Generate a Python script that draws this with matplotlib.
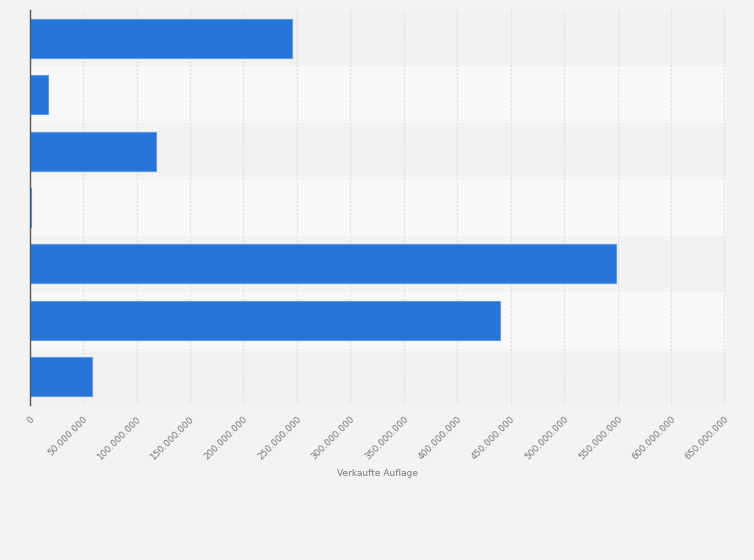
import matplotlib
matplotlib.use("Agg")
import matplotlib.pyplot as plt
import numpy as np

categories = ["1", "2", "3", "4", "5", "6", "7"]
values = [245e6, 17.4e6, 118.5e6, 1.2e6, 548.5e6, 440e6, 58.5e6]
xticks = list(range(0, 650_000_001, 50_000_000))
xlabel = "Verkaufte Auflage"

def fmt(v):
    return f"{v:,}".replace(",", ".")

fig = plt.figure(figsize=(7.54, 5.6), dpi=100)
fig.patch.set_facecolor("#f3f3f3")
ax = fig.add_axes([29.7/754, 1-405/560, (726-29.7)/754, (405-10)/560])
ax.set_facecolor("#f3f3f3")

n = len(categories)
y = np.arange(n)
for i in range(n):
    ax.axhspan(i-0.5, i+0.5, color="#f2f2f2" if i % 2 == 0 else "#f8f8f8", zorder=0, lw=0)

ax.barh(y, values, height=0.69, color="#2775d9", edgecolor="#5a97e6", linewidth=0.8, zorder=3)

ax.set_ylim(n-0.5, -0.5)
ax.set_xlim(0, 651_500_000)
ax.set_yticks([])
ax.set_xticks(xticks)
ax.set_xticklabels([fmt(v) for v in xticks], rotation=45, ha="right", rotation_mode="anchor",
                   fontsize=6.5, color="#777777")
ax.tick_params(axis="x", length=0, pad=7)
ax.grid(axis="x", color="#dedede", linestyle=(0, (2, 1.5)), linewidth=0.8, zorder=1)
for s in ["top", "right", "bottom"]:
    ax.spines[s].set_visible(False)
ax.spines["left"].set_color("#555555")
ax.spines["left"].set_linewidth(1.0)
ax.spines["left"].set_zorder(4)
ax.set_xlabel(xlabel, fontsize=6.5, color="#777777", labelpad=5)

fig.savefig("out.png", dpi=100, facecolor=fig.get_facecolor())
